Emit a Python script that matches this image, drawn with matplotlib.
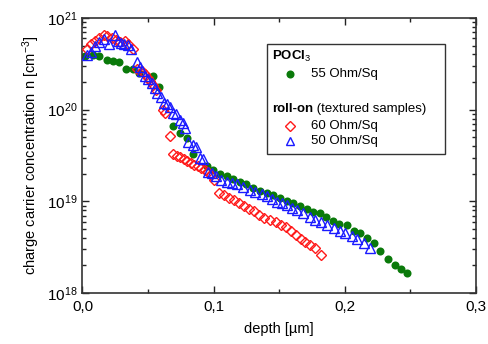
import matplotlib
matplotlib.use("Agg")
import matplotlib.pyplot as plt
import matplotlib.ticker as mticker
from matplotlib.patches import Rectangle

plt.rcParams['font.family'] = ['Liberation Sans', 'DejaVu Sans']
plt.rcParams['mathtext.fontset'] = 'custom'
plt.rcParams['mathtext.rm'] = 'Liberation Sans'
plt.rcParams['mathtext.it'] = 'Liberation Sans:italic'
plt.rcParams['mathtext.bf'] = 'Liberation Sans:bold'

# POCl3 55 Ohm/Sq
poc_x = [0.0019, 0.0082, 0.0128, 0.0185, 0.0230, 0.0280, 0.0332, 0.0383, 0.0433,
         0.0535, 0.0586, 0.0692, 0.0743, 0.0794, 0.0845, 0.0947, 0.0999, 0.1048,
         0.1100, 0.1150, 0.1200, 0.1250, 0.1300, 0.1353, 0.1404, 0.1450, 0.1504,
         0.1557, 0.1607, 0.1658, 0.1710, 0.1760, 0.1810, 0.1860, 0.1910, 0.1960,
         0.2014, 0.2070, 0.2120, 0.2170, 0.2220, 0.2268, 0.2329, 0.2380, 0.2430,
         0.2476]
poc_y = [3.8e20, 3.92e20, 3.85e20, 3.48e20, 3.35e20, 3.27e20, 2.75e20, 2.75e20, 2.5e20,
         2.3e20, 1.75e20, 6.6e19, 5.6e19, 4.9e19, 3.27e19, 2.45e19, 2.2e19, 2.01e19,
         1.87e19, 1.75e19, 1.64e19, 1.53e19, 1.4e19, 1.31e19, 1.22e19, 1.17e19, 1.1e19,
         1.02e19, 9.5e18, 8.9e18, 8.25e18, 7.7e18, 7.4e18, 6.8e18, 6.15e18, 5.6e18,
         5.5e18, 4.8e18, 4.55e18, 3.95e18, 3.5e18, 2.9e18, 2.35e18, 2.02e18, 1.83e18,
         1.64e18]

# roll-on 60 Ohm/Sq
r60_x = [0.0037, 0.0063, 0.0093, 0.0124, 0.0164, 0.0189, 0.0225, 0.0255, 0.0284,
         0.0322, 0.0347, 0.0385, 0.0418, 0.0454, 0.0474, 0.0499, 0.0515, 0.0540,
         0.0560, 0.0611, 0.0629, 0.0667, 0.0692, 0.0720, 0.0747, 0.0774, 0.0800,
         0.0827, 0.0854, 0.0881, 0.0907, 0.0934, 0.0961, 0.0983, 0.1003, 0.1043,
         0.1079, 0.1117, 0.1155, 0.1193, 0.1231, 0.1269, 0.1307, 0.1346, 0.1384,
         0.1429, 0.1475, 0.1513, 0.1551, 0.1590, 0.1628, 0.1666, 0.1700, 0.1734,
         0.1772, 0.1822]
r60_y = [4.62e20, 5.2e20, 5.65e20, 6.05e20, 6.47e20, 6.31e20, 6.05e20, 5.75e20, 5.47e20,
         5.65e20, 5.2e20, 4.62e20, 2.8e20, 2.62e20, 2.45e20, 2.21e20, 2.05e20, 1.84e20,
         1.64e20, 9.9e19, 9.1e19, 5.1e19, 3.28e19, 3.12e19, 3.01e19, 2.86e19, 2.72e19,
         2.6e19, 2.49e19, 2.43e19, 2.31e19, 2.2e19, 2.09e19, 1.94e19, 1.69e19, 1.24e19,
         1.17e19, 1.1e19, 1.035e19, 9.6e18, 8.9e18, 8.35e18, 7.85e18, 7.18e18, 6.66e18,
         6.25e18, 5.95e18, 5.59e18, 5.19e18, 4.81e18, 4.35e18, 3.93e18, 3.6e18, 3.34e18,
         3.1e18, 2.6e18]

# roll-on 50 Ohm/Sq
r50_x = [0.0037, 0.0067, 0.0098, 0.0124, 0.0164, 0.0200, 0.0245, 0.0271, 0.0294,
         0.0316, 0.0347, 0.0372, 0.0418, 0.0436, 0.0454, 0.0477, 0.0502, 0.0528,
         0.0553, 0.0572, 0.0598, 0.0621, 0.0644, 0.0667, 0.0694, 0.0717, 0.0746,
         0.0766, 0.0785, 0.0807, 0.0840, 0.0865, 0.0896, 0.0919, 0.0959, 0.0985,
         0.1018, 0.1060, 0.1099, 0.1138, 0.1176, 0.1226, 0.1277, 0.1315, 0.1366,
         0.1404, 0.1442, 0.1480, 0.1519, 0.1561, 0.1601, 0.1639, 0.1683, 0.1734,
         0.1773, 0.1818, 0.1868, 0.1917, 0.1963, 0.2001, 0.2052, 0.2097, 0.2146,
         0.2196]
r50_y = [3.98e20, 4.26e20, 4.91e20, 5.47e20, 5.94e20, 5.2e20, 6.47e20, 5.57e20, 5.34e20,
         5.2e20, 5.03e20, 4.62e20, 3.31e20, 2.9e20, 2.64e20, 2.33e20, 2.14e20, 1.97e20,
         1.71e20, 1.53e20, 1.39e20, 1.19e20, 1.14e20, 1.08e20, 9.1e19, 8.85e19, 7.65e19,
         7.06e19, 6.26e19, 4.48e19, 4.12e19, 3.87e19, 2.95e19, 2.86e19, 2.1e19, 2.02e19,
         1.89e19, 1.73e19, 1.64e19, 1.57e19, 1.53e19, 1.42e19, 1.33e19, 1.27e19, 1.2e19,
         1.14e19, 1.06e19, 9.9e18, 9.5e18, 9.13e18, 8.4e18, 7.98e18, 7.41e18, 6.8e18,
         6.34e18, 5.95e18, 5.52e18, 5.08e18, 4.81e18, 4.57e18, 4.19e18, 3.86e18, 3.56e18,
         3.14e18]

x_ticks = [0.0, 0.1, 0.2, 0.3]
x_ticklabels = ["0,0", "0,1", "0,2", "0,3"]

fig = plt.figure(figsize=(4.88, 3.44), dpi=100)
ax = fig.add_axes([0.169, 0.148, 0.806, 0.800])

green = '#0a7a0a'
red = '#ff1a1a'
blue = '#1a1aff'
ms_c, ms_d, ms_t = 5.8, 5.4, 7.0
ax.plot(poc_x, poc_y, 'o', color=green, markersize=ms_c, markeredgewidth=0, zorder=2)
ax.plot(r60_x, r60_y, 'D', color=red, markerfacecolor='none', markersize=ms_d,
        markeredgewidth=1.0, zorder=3)
ax.plot(r50_x, r50_y, '^', color=blue, markerfacecolor='none', markersize=ms_t,
        markeredgewidth=1.0, zorder=4)

ax.set_yscale('log')
ax.set_xlim(0, 0.3)
ax.set_ylim(1e18, 1e21)
ax.set_xticks(x_ticks)
ax.set_xticklabels(x_ticklabels)
ax.xaxis.set_minor_locator(mticker.MultipleLocator(0.05))
ax.yaxis.set_major_locator(mticker.LogLocator(base=10))
ax.yaxis.set_minor_locator(mticker.LogLocator(base=10, subs=range(2, 10)))
ax.yaxis.set_minor_formatter(mticker.NullFormatter())

ax.tick_params(which='both', direction='in', top=True, right=True, colors='#222222',
               labelcolor='black', labelsize=11, width=1.0)
ax.tick_params(which='major', length=5)
ax.tick_params(which='minor', length=3)
ax.tick_params(axis='x', pad=5)
for s in ax.spines.values():
    s.set_linewidth(1.2)
    s.set_color('#333333')

ax.set_xlabel('depth [µm]', fontsize=10.5, labelpad=6)
ax.set_ylabel('charge carrier concentration n [cm$^{-3}$]', fontsize=10.5, labelpad=4)

# legend box (manual)
def px2ax(px, py):
    return ((px - 82.5) / (476 - 82.5), (293 - py) / (293 - 18))

x0, y0 = px2ax(267, 154)
x1, y1 = px2ax(445, 44)
ax.add_patch(Rectangle((x0, y0), x1 - x0, y1 - y0, transform=ax.transAxes,
                       facecolor='white', edgecolor='#333333', linewidth=1.0, zorder=5))
fs = 9.5
tx, ty = px2ax(272, 57)
ax.text(tx, ty, r'$\mathbf{POCl}_{3}$', transform=ax.transAxes, fontsize=fs,
        va='center', ha='left', zorder=6)
mx, my = px2ax(290, 74)
ax.plot([mx], [my], 'o', color=green, markersize=ms_c, markeredgewidth=0,
        transform=ax.transAxes, zorder=6, clip_on=False)
lx, ly = px2ax(311, 74)
ax.text(lx, ly, '55 Ohm/Sq', transform=ax.transAxes, fontsize=fs, va='center', ha='left', zorder=6)
tx, ty = px2ax(272, 109)
t = ax.text(tx, ty, 'roll-on', transform=ax.transAxes, fontsize=fs, fontweight='bold',
            va='center', ha='left', zorder=6)
ax.annotate(' (textured samples)', xycoords=t, xy=(1, 0.5), va='center', ha='left',
            fontsize=fs, zorder=6)
mx, my = px2ax(290, 126)
ax.plot([mx], [my], 'D', color=red, markerfacecolor='none', markersize=ms_d,
        markeredgewidth=1.0, transform=ax.transAxes, zorder=6, clip_on=False)
lx, ly = px2ax(311, 126)
ax.text(lx, ly, '60 Ohm/Sq', transform=ax.transAxes, fontsize=fs, va='center', ha='left', zorder=6)
mx, my = px2ax(290, 141)
ax.plot([mx], [my], '^', color=blue, markerfacecolor='none', markersize=6.0,
        markeredgewidth=1.0, transform=ax.transAxes, zorder=6, clip_on=False)
lx, ly = px2ax(311, 141)
ax.text(lx, ly, '50 Ohm/Sq', transform=ax.transAxes, fontsize=fs, va='center', ha='left', zorder=6)

fig.savefig('out.png', dpi=100)
